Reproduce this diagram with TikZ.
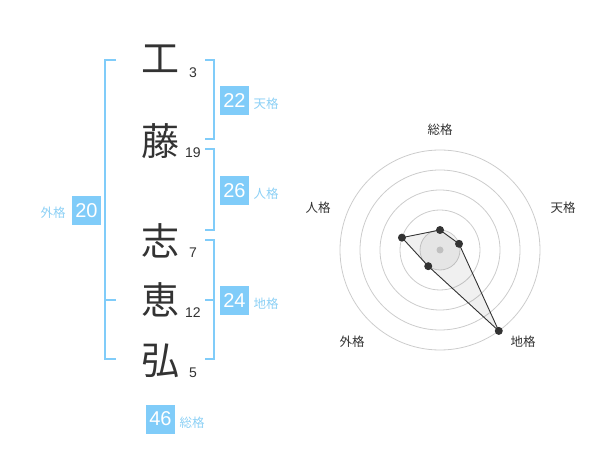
\documentclass[tikz,border=0pt]{standalone}
\usepackage{fontspec}
\setmainfont{Liberation Sans}
\newfontfamily\jp{Noto Sans CJK JP}
\definecolor{sky}{RGB}{128,204,249}
\definecolor{skytext}{RGB}{140,208,245}
\definecolor{ink}{RGB}{51,51,51}
\definecolor{ring}{RGB}{204,204,204}
\begin{document}
\begin{tikzpicture}[x=1pt,y=-1pt,
  kanji/.style={font=\jp\fontsize{38}{38}\selectfont,text=ink,inner sep=0pt},
  stroke/.style={font=\fontsize{14}{14}\selectfont,text=ink,inner sep=0pt},
  valbox/.style={fill=sky,text=white,font=\fontsize{20}{20}\selectfont,minimum width=29pt,minimum height=29pt,inner sep=0pt},
  kaku/.style={font=\jp\fontsize{12.5}{12.5}\selectfont,text=skytext,inner sep=0pt},
  brk/.style={draw=sky,line width=2pt},
  axislab/.style={font=\jp\fontsize{12.5}{12.5}\selectfont,text=ink,inner sep=0pt},
  dot/.style={circle,fill=ink,inner sep=0pt,minimum size=8pt}]
\useasboundingbox (0,0) rectangle (600,470);
% characters
\node[kanji] (c1) at (160,59) {工};
\node[kanji] (c2) at (160,141) {藤};
\node[kanji] (c3) at (160,241) {志};
\node[kanji] (c4) at (160,300) {恵};
\node[kanji] (c5) at (160,361) {弘};
\node[stroke] (n1) at (193,73) {3};
\node[stroke] (n2) at (193,153) {19};
\node[stroke] (n3) at (193,253) {7};
\node[stroke] (n4) at (193,313) {12};
\node[stroke] (n5) at (193,373) {5};
% brackets
\draw[brk] (116,60) -- (105,60) -- (105,359) -- (116,359);
\draw[brk] (105,300) -- (116,300);
\draw[brk] (205,60) -- (214,60) -- (214,139) -- (205,139);
\draw[brk] (205,149) -- (214,149) -- (214,230) -- (205,230);
\draw[brk] (205,240) -- (214,240) -- (214,359) -- (205,359);
\draw[brk] (205,300) -- (214,300);
% value boxes
\node[valbox] (gai) at (86.5,210.5) {20};
\node[kaku] (gail) at (53,213) {外格};
\node[valbox] (ten) at (234.5,100.5) {22};
\node[kaku] (tenl) at (266,104) {天格};
\node[valbox] (jin) at (234.5,190.5) {26};
\node[kaku] (jinl) at (266,194) {人格};
\node[valbox] (chi) at (234.5,300.5) {24};
\node[kaku] (chil) at (266,304) {地格};
\node[valbox] (sou) at (160.5,419) {46};
\node[kaku] (soul) at (192,423) {総格};
% radar
\begin{scope}[shift={(440,250)}]
  \fill[gray!9] (0,0) circle (20);
  \foreach \r in {20,40,60,80,100} \draw[ring,line width=0.8pt] (0,0) circle (\r);
  \fill[ring] (0,0) circle (3.5);
  \coordinate (ps) at (-90:20);
  \coordinate (pt) at (-18:20);
  \coordinate (pc) at (54:100);
  \coordinate (pg) at (126:20);
  \coordinate (pj) at (198:40);
  \fill[black,opacity=0.06] (ps) -- (pt) -- (pc) -- (pg) -- (pj) -- cycle;
  \draw[ink,line width=0.9pt] (ps) -- (pt) -- (pc) -- (pg) -- (pj) -- cycle;
  \foreach \p in {ps,pt,pc,pg,pj} \node[dot] at (\p) {};
  \node[axislab] (as) at (0,-120) {総格};
  \node[axislab] (at) at (123,-42) {天格};
  \node[axislab] (ac) at (83,92) {地格};
  \node[axislab] (ag) at (-88,92) {外格};
  \node[axislab] (aj) at (-122,-42) {人格};
\end{scope}
\end{tikzpicture}
\end{document}
